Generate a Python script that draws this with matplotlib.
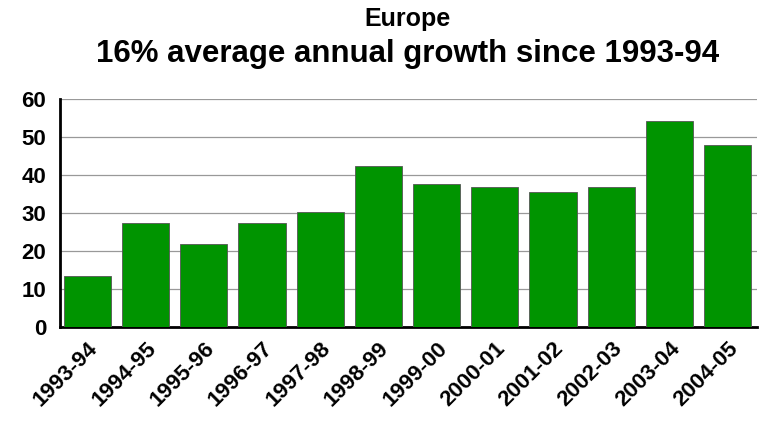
import matplotlib
matplotlib.use("Agg")
import matplotlib.pyplot as plt

categories = ["1993-94", "1994-95", "1995-96", "1996-97", "1997-98", "1998-99",
              "1999-00", "2000-01", "2001-02", "2002-03", "2003-04", "2004-05"]
values = [13.5, 27.3, 21.8, 27.3, 30.3, 42.4, 37.6, 36.9, 35.6, 36.9, 54.2, 47.9]
yticks = [0, 10, 20, 30, 40, 50, 60]

plt.rcParams['font.family'] = ['Liberation Sans', 'DejaVu Sans']
fig = plt.figure(figsize=(7.73, 4.25), dpi=100)
ax = fig.add_axes([0.0776, 0.2306, 0.9014, 0.5354])

x = list(range(len(categories)))
ax.bar(x, values, width=0.81, color='#009400', edgecolor='#555555', linewidth=0.6, zorder=3)
ax.set_xlim(-0.47, 11.5)
ax.set_ylim(0, 60)
ax.set_yticks(yticks)
ax.set_yticklabels([str(t) for t in yticks], fontsize=16, fontweight='bold')
ax.set_xticks(x)
ax.set_xticklabels(categories, rotation=45, ha='right', rotation_mode='anchor',
                   fontsize=16, fontweight='bold')
ax.tick_params(axis='y', length=0, pad=10)
ax.tick_params(axis='x', length=0, pad=8)
ax.grid(axis='y', color='#999999', linewidth=0.9, zorder=0)
for s in ['top', 'right']:
    ax.spines[s].set_visible(False)
ax.spines['left'].set_linewidth(2)
ax.spines['bottom'].set_linewidth(2)

fig.text(0.527, 0.955, "Europe", ha='center', va='center', fontsize=18, fontweight='bold')
fig.text(0.527, 0.873, "16% average annual growth since 1993-94", ha='center', va='center',
         fontsize=22.5, fontweight='bold')

fig.savefig("out.png", dpi=100)
